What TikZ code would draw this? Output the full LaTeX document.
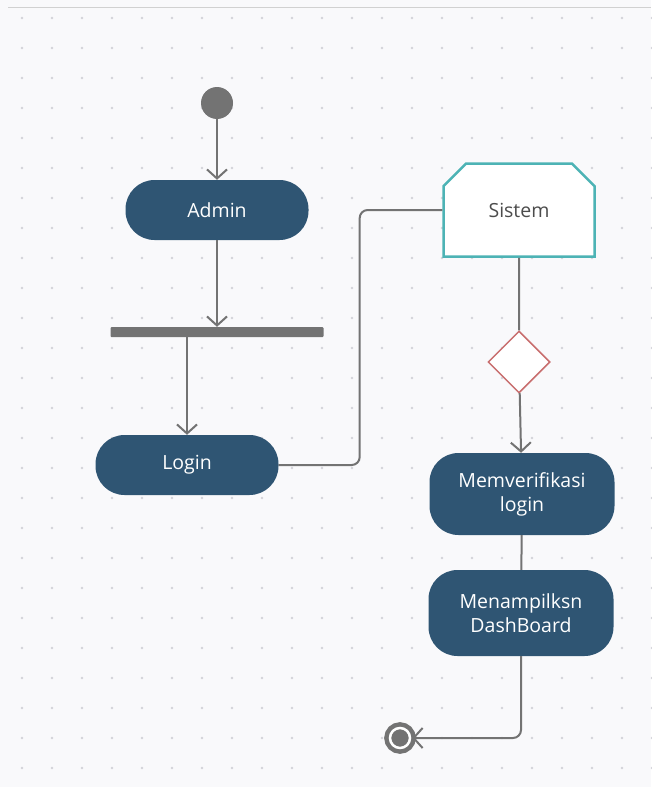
\documentclass[tikz,border=0pt]{standalone}
\usepackage{fontspec}
\setmainfont{Open Sans}
\usetikzlibrary{arrows.meta,positioning,shapes.geometric,shapes.misc}
\definecolor{actblue}{HTML}{2F5573}
\definecolor{flowgrey}{HTML}{737373}
\definecolor{sisteal}{HTML}{4DB3B5}
\definecolor{decred}{HTML}{C86E6E}
\definecolor{paper}{HTML}{F9F9FB}
\definecolor{dotgrey}{HTML}{D3D3D8}
\tikzset{
  activity/.style={rectangle, rounded corners=29pt, fill=actblue, text=white,
    minimum width=183pt, minimum height=60pt, align=center,
    font=\fontsize{19.5}{24}\selectfont},
  initial/.style={circle, fill=flowgrey, minimum size=32pt, inner sep=0pt},
  final/.style={circle, fill=flowgrey, minimum size=20pt, inner sep=0pt,
    draw=flowgrey, line width=4.5pt, double=white, double distance=2.5pt},
  forkbar/.style={rectangle, fill=flowgrey, minimum width=213pt,
    minimum height=10pt, inner sep=0pt, rounded corners=1pt},
  swimlane/.style={chamfered rectangle, chamfered rectangle corners={north west,north east},
    chamfered rectangle xsep=12pt, chamfered rectangle ysep=12pt,
    draw=sisteal, line width=2.5pt, fill=white, minimum width=151pt,
    minimum height=93pt, text=black!70, font=\fontsize{19.5}{24}\selectfont},
  decision/.style={diamond, draw=decred, line width=1.5pt, fill=white,
    minimum width=62pt, minimum height=62pt, inner sep=0pt},
  line/.style={draw=flowgrey, line width=2pt},
  flow/.style={line, -{Straight Barb[length=9pt,width=20pt]}}
}
\begin{document}
\begin{tikzpicture}[x=1pt,y=1pt,node distance=3cm,on grid]
  % background with dot grid
  \fill[paper] (0,0) rectangle (651,-787);
  \useasboundingbox (0,0) rectangle (651,-787);
  \foreach \i in {0,...,21}
    \foreach \j in {0,...,25}
      \fill[dotgrey] (22+30*\i,-18-30*\j) circle (1.3);
  \draw[black!18, line width=1pt] (8,-7) -- (651,-7);

  \node [initial] (start) at (217,-103) {};
  \node [activity] (admin) [below=107pt of start] {Admin};
  \node [forkbar] (fork) [below=122pt of admin] {};
  \node [activity] (login) [below left=133pt and 30pt of fork] {Login};
  \node [swimlane] (sistem) [right=302pt of admin] {Sistem};
  \node [decision] (cek) [below=152pt of sistem] {};
  \node [activity, minimum width=185pt, minimum height=82pt] (verif)
        [below right=132pt and 3pt of cek] {Memverifikasi\\login};
  \node [activity, minimum width=185pt, minimum height=86pt] (tampil)
        [below left=119pt and 1pt of verif] {Menampilksn\\DashBoard};
  \node [final] (selesai) [below left=125pt and 121pt of tampil] {};

  \draw[flow] (start) -- (admin);
  \draw[flow] (admin) -- (fork);
  \draw[flow] (fork.south -| login) -- (login);
  \draw[flow] (cek) -- (verif);
  \draw[line, rounded corners=8pt] (login.east) -- ++(81,0) |- (sistem.west);
  \draw[line] (sistem) -- (cek);
  \draw[line] (verif) -- (tampil);
  \draw[flow, rounded corners=8pt] (tampil.south) |- (selesai.east);
\end{tikzpicture}
\end{document}
